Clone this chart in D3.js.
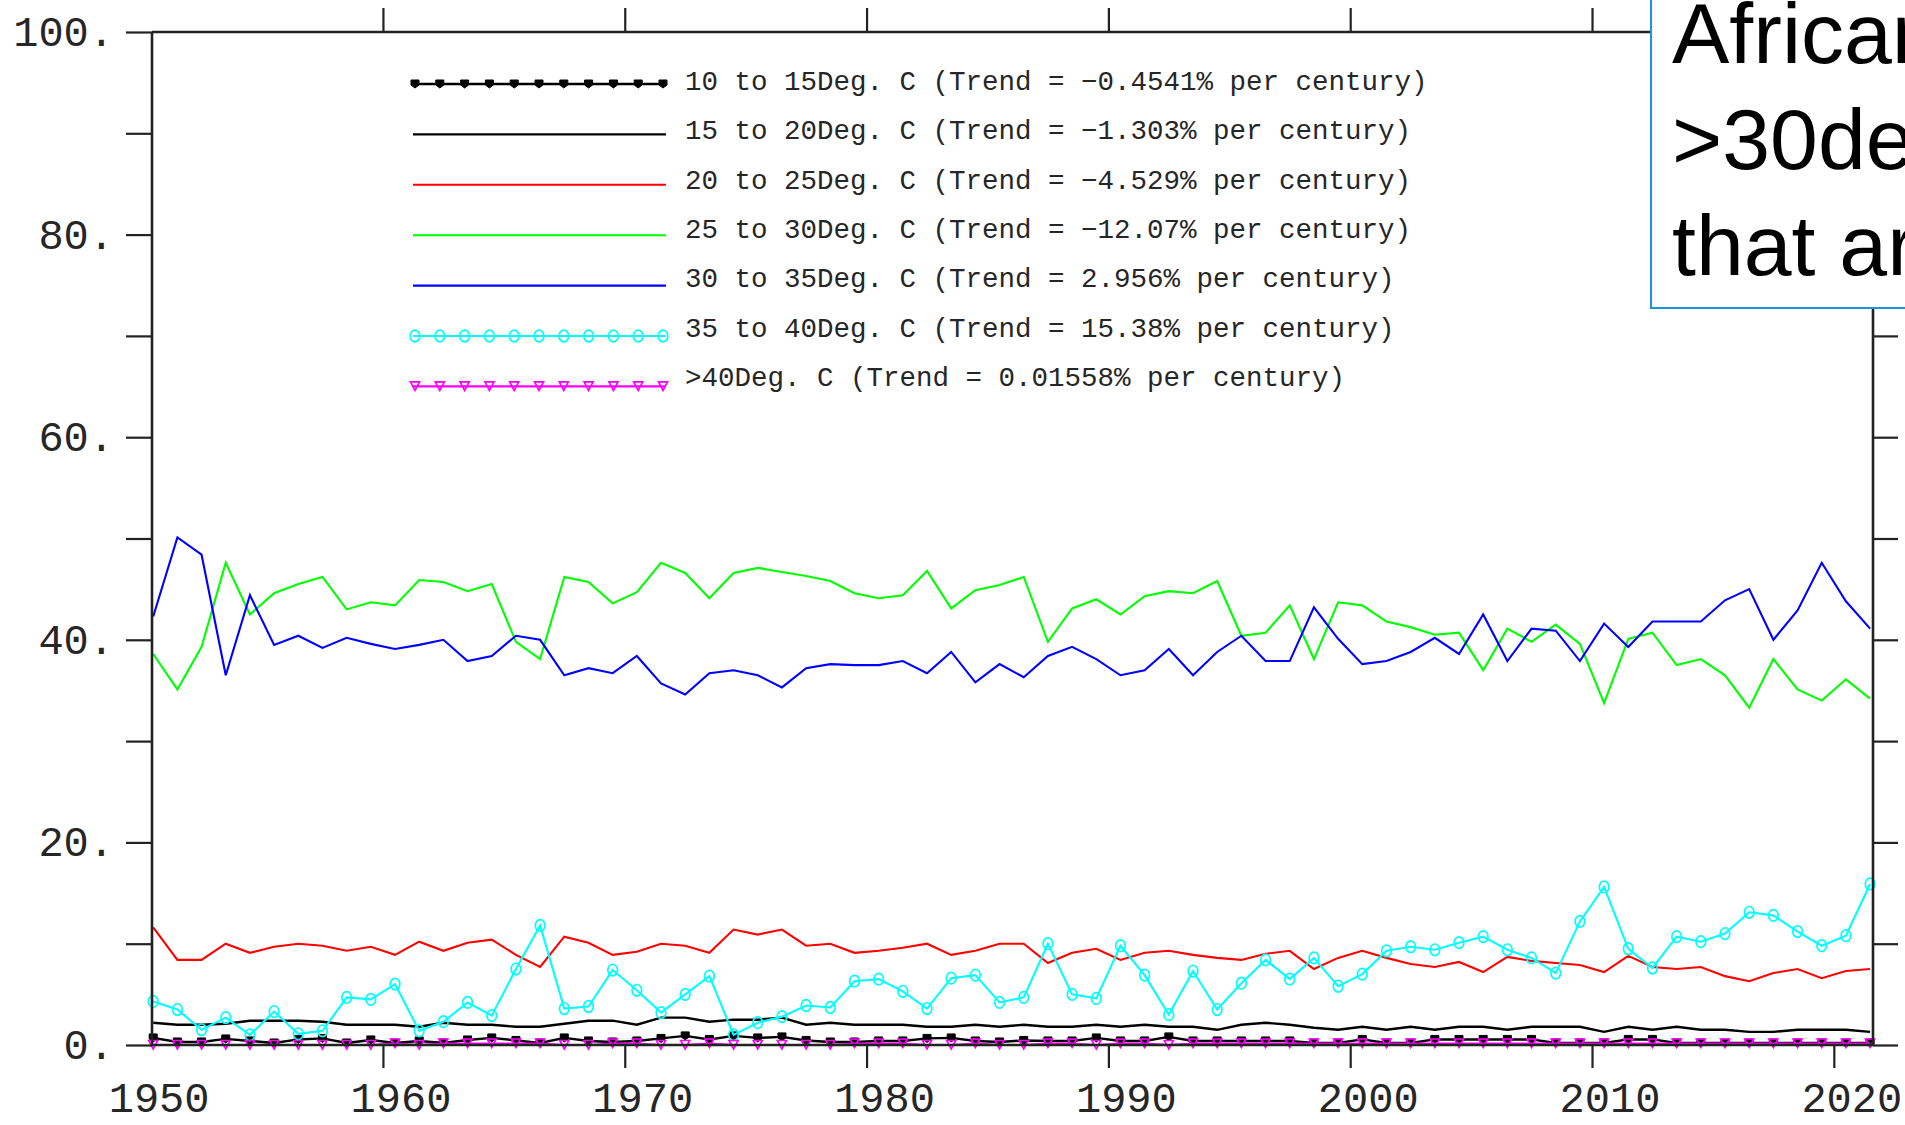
<!DOCTYPE html>
<html>
<head>
<meta charset="utf-8">
<script src="https://cdn.jsdelivr.net/npm/d3@7"></script>
<style>
  html, body { margin: 0; padding: 0; background: #fff; overflow: hidden; }
  svg { display: block; }
</style>
</head>
<body>
<svg id="chart" width="1905" height="1125"></svg>
<script>
// ---------------- DATA ----------------
const years = d3.range(1950, 2022);               // 1950 .. 2021
const xTickYears = [1960, 1970, 1980, 1990, 2000, 2010, 2020];
const xLabelYears = [1950, 1960, 1970, 1980, 1990, 2000, 2010, 2020];
const yTicks = [0, 10, 20, 30, 40, 50, 60, 70, 80, 90, 100];
const yLabelTicks = [0, 20, 40, 60, 80, 100];

const seriesNames = [
  "10 to 15Deg. C (Trend = \u22120.4541% per century)",
  "15 to 20Deg. C (Trend = \u22121.303% per century)",
  "20 to 25Deg. C (Trend = \u22124.529% per century)",
  "25 to 30Deg. C (Trend = \u221212.07% per century)",
  "30 to 35Deg. C (Trend = 2.956% per century)",
  "35 to 40Deg. C (Trend = 15.38% per century)",
  ">40Deg. C (Trend = 0.01558% per century)"
];
const seriesColors = ["#000000", "#000000", "#ff0000", "#00ff00", "#0000ff", "#00ffff", "#ff00ff"];
const seriesMarkers = ["filled", "none", "none", "none", "none", "circle", "triangle"];

const t10to15 = [0.7,0.3,0.3,0.6,0.4,0.2,0.55,0.65,0.2,0.5,0.2,0.4,0.2,0.5,0.7,0.45,0.2,0.7,0.4,0.3,0.4,0.65,0.9,0.55,
  0.9,0.7,0.8,0.45,0.3,0.3,0.4,0.4,0.65,0.7,0.4,0.3,0.45,0.4,0.4,0.7,0.4,0.4,0.8,0.4,0.4,0.4,0.4,0.4,
  0.2,0.2,0.55,0.2,0.2,0.55,0.55,0.55,0.55,0.55,0.2,0.2,0.2,0.55,0.55,0.2,0.2,0.2,0.2,0.2,0.2,0.2,0.2,0.2];
const t15to20 = [2.2,2.0,2.0,2.1,2.4,2.4,2.4,2.3,2.0,2.0,2.0,1.8,2.2,2.0,2.0,1.8,1.8,2.1,2.4,2.4,2.0,2.7,2.7,2.3,
  2.5,2.5,2.7,2.0,2.2,2.0,2.0,2.0,1.8,1.8,2.0,1.8,2.0,1.8,1.8,2.0,1.8,2.0,1.8,1.8,1.5,2.0,2.2,2.0,
  1.7,1.5,1.8,1.5,1.8,1.5,1.8,1.8,1.5,1.8,1.8,1.8,1.3,1.8,1.5,1.8,1.5,1.5,1.3,1.3,1.5,1.5,1.5,1.3];
const t20to25 = [11.6,8.4,8.4,10.0,9.1,9.7,10.0,9.8,9.3,9.7,8.9,10.2,9.3,10.1,10.4,8.9,7.7,10.7,10.1,8.9,9.2,10.0,9.8,9.1,
  11.4,10.9,11.4,9.8,10.0,9.1,9.3,9.6,10.0,8.9,9.3,10.0,10.0,8.1,9.1,9.5,8.4,9.1,9.3,8.9,8.6,8.4,9.0,9.3,
  7.5,8.6,9.3,8.6,8.0,7.7,8.2,7.2,8.7,8.3,8.1,7.9,7.2,8.8,7.7,7.5,7.7,6.8,6.3,7.1,7.5,6.6,7.3,7.5];
const t25to30 = [38.6,35.1,39.3,47.6,42.5,44.6,45.5,46.2,43.0,43.7,43.4,45.9,45.7,44.8,45.5,39.8,38.1,46.2,45.7,43.6,44.7,47.6,46.6,44.1,
  46.6,47.1,46.7,46.3,45.8,44.6,44.1,44.4,46.8,43.1,44.9,45.4,46.2,39.8,43.1,44.0,42.5,44.3,44.8,44.6,45.8,40.4,40.7,43.4,
  38.1,43.7,43.4,41.8,41.25,40.5,40.7,37.0,41.1,39.8,41.5,39.6,33.75,40.1,40.7,37.5,38.1,36.5,33.3,38.1,35.1,34.0,36.1,34.2];
const t30to35 = [42.3,50.1,48.4,36.5,44.4,39.5,40.4,39.2,40.2,39.6,39.1,39.5,40.0,37.9,38.4,40.4,40.0,36.5,37.2,36.7,38.4,35.7,34.6,36.7,
  37.0,36.5,35.3,37.2,37.6,37.5,37.5,37.9,36.7,38.8,35.8,37.6,36.3,38.4,39.3,38.1,36.5,37.0,39.1,36.5,38.8,40.4,37.9,37.9,
  43.2,40.1,37.6,37.9,38.8,40.2,38.6,42.5,37.9,41.1,40.9,37.9,41.6,39.3,41.8,41.8,41.8,43.9,45.0,40.0,42.9,47.6,43.8,41.1];
const t35to40 = [4.3,3.5,1.5,2.7,1.0,3.3,1.1,1.4,4.7,4.5,6.0,1.4,2.3,4.2,2.9,7.5,11.8,3.6,3.8,7.4,5.4,3.2,5.0,6.8,
  1.0,2.2,2.8,3.9,3.7,6.3,6.5,5.3,3.6,6.6,6.9,4.2,4.7,10.0,5.0,4.6,9.8,6.9,3.0,7.3,3.5,6.1,8.4,6.5,
  8.6,5.8,7.0,9.3,9.7,9.4,10.1,10.7,9.4,8.6,7.1,12.2,15.6,9.5,7.6,10.7,10.2,11.0,13.1,12.8,11.2,9.8,10.8,15.9];
const tOver40 = [0,0,0,0,0,0,0,0,0,0,0.15,0,0.15,0.15,0.15,0.15,0.15,0,0,0.15,0.15,0,0,0.15,
  0,0,0,0,0,0.15,0.15,0.15,0,0,0.15,0,0,0.15,0.15,0,0.15,0.15,0,0.15,0.15,0.15,0.15,0.15,
  0.15,0.15,0.15,0.15,0.15,0.15,0.15,0.15,0.15,0.15,0.15,0.15,0.15,0.15,0.15,0.15,0.15,0.15,0.15,0.15,0.15,0.15,0.15,0.15];
const seriesValues = [t10to15, t15to20, t20to25, t25to30, t30to35, t35to40, tOver40];

const boxLines = ["African land area", ">30degC", "that are"];

// ---------------- LAYOUT ----------------
const svg = d3.select("#chart");
const pL = 152, pR = 1873, pT = 32, pB = 1045;
const axisFont = "'Liberation Mono', 'DejaVu Sans Mono', monospace";
const textColor = "#262626";

const x = d3.scaleLinear().domain([1950.45, 2021.62]).range([pL, pR]);
const y = d3.scaleLinear().domain([0, 100]).range([pB, pT]);
const xPos = yr => x(yr + 0.5);   // annual values plotted mid-year

// ---------------- DATA LINES ----------------
const plot = svg.append("g");
const lineGen = d3.line().x((d, i) => xPos(years[i])).y(d => y(d));

function markerPath(kind) {
  if (kind === "filled") return "M-4,-4H4V1L0,4L-4,1Z";
  if (kind === "triangle") return "M-4.5,-4.5H4.5L0,4Z";
  return null;
}
function drawMarker(g, kind, color, cx, cy) {
  if (kind === "circle") {
    g.append("ellipse").attr("cx", cx).attr("cy", cy).attr("rx", 4.8).attr("ry", 5.8)
      .attr("fill", "none").attr("stroke", color).attr("stroke-width", 1.7);
  } else if (kind === "filled") {
    g.append("path").attr("d", markerPath(kind)).attr("transform", `translate(${cx},${cy})`)
      .attr("fill", color).attr("stroke", color).attr("stroke-width", 1);
  } else if (kind === "triangle") {
    g.append("path").attr("d", markerPath(kind)).attr("transform", `translate(${cx},${cy})`)
      .attr("fill", "none").attr("stroke", color).attr("stroke-width", 1.7);
  }
}

seriesValues.forEach((vals, k) => {
  const g = plot.append("g");
  g.append("path").datum(vals)
    .attr("d", lineGen)
    .attr("fill", "none")
    .attr("stroke", seriesColors[k])
    .attr("stroke-width", k < 2 ? 2.4 : 2.1)
    .attr("stroke-linejoin", "miter");
  if (seriesMarkers[k] !== "none") {
    vals.forEach((v, i) => drawMarker(g, seriesMarkers[k], seriesColors[k], xPos(years[i]), y(v)));
  }
});

// ---------------- AXES ----------------
const axisColor = "#222";
function styleAxis(g) {
  g.select(".domain").remove();
  g.selectAll(".tick line").attr("stroke", axisColor).attr("stroke-width", 2.2);
  g.selectAll("text").attr("font-family", axisFont).attr("font-size", 42).attr("fill", textColor);
}
svg.append("g").attr("transform", `translate(${pL},0)`)
  .call(d3.axisLeft(y).tickValues(yTicks).tickSize(26).tickPadding(12)
    .tickFormat(d => yLabelTicks.includes(d) ? d + "." : ""))
  .call(styleAxis);
svg.append("g").attr("transform", `translate(${pR},0)`)
  .call(d3.axisRight(y).tickValues(yTicks).tickSize(25).tickFormat(""))
  .call(styleAxis);
svg.append("g").attr("transform", `translate(0,${pB})`)
  .call(d3.axisBottom(x).tickValues(xTickYears).tickSize(23).tickFormat(""))
  .call(styleAxis);
svg.append("g").attr("transform", `translate(0,${pT})`)
  .call(d3.axisTop(x).tickValues(xTickYears).tickSize(24).tickFormat(""))
  .call(styleAxis);

// frame
const frame = svg.append("g").attr("stroke", axisColor).attr("stroke-width", 2.6);
frame.append("line").attr("x1", pL).attr("x2", pL).attr("y1", pT).attr("y2", pB);
frame.append("line").attr("x1", pR).attr("x2", pR).attr("y1", pT).attr("y2", pB);
frame.append("line").attr("x1", pL).attr("x2", pR).attr("y1", pT).attr("y2", pT);
frame.append("line").attr("x1", pL).attr("x2", pR).attr("y1", pB).attr("y2", pB);

// bottom year labels
svg.append("g").selectAll("text").data(xLabelYears).join("text")
  .attr("x", d => x(d) + 18)
  .attr("y", 1112)
  .attr("text-anchor", "middle")
  .attr("font-family", axisFont).attr("font-size", 42).attr("fill", textColor)
  .text(d => d);

// ---------------- LEGEND ----------------
const legend = svg.append("g");
const legX1 = 413, legX2 = 666, legTextX = 685;
seriesNames.forEach((name, k) => {
  const ly = 84 + 50.4 * k;
  legend.append("line").attr("x1", legX1).attr("x2", legX2).attr("y1", ly).attr("y2", ly)
    .attr("stroke", seriesColors[k]).attr("stroke-width", k < 2 ? 2.4 : 2.1);
  if (seriesMarkers[k] !== "none") {
    d3.range(11).forEach(j => drawMarker(legend, seriesMarkers[k], seriesColors[k], 415 + 24.8 * j, ly));
  }
  legend.append("text").attr("x", legTextX).attr("y", 90 + 49.3 * k)
    .attr("font-family", axisFont).attr("font-size", 27.5).attr("fill", textColor)
    .text(name);
});

// ---------------- TEXT BOX ----------------
const box = svg.append("g");
box.append("rect").attr("x", 1651).attr("y", -10).attr("width", 400).attr("height", 318)
  .attr("fill", "#fff").attr("stroke", "#1b95d5").attr("stroke-width", 2);
boxLines.forEach((t, i) => {
  box.append("text").attr("x", 1672).attr("y", 63 + 106 * i)
    .attr("font-family", "'Liberation Sans', Arial, sans-serif").attr("font-size", 86).attr("fill", "#000")
    .text(t);
});
</script>
</body>
</html>
